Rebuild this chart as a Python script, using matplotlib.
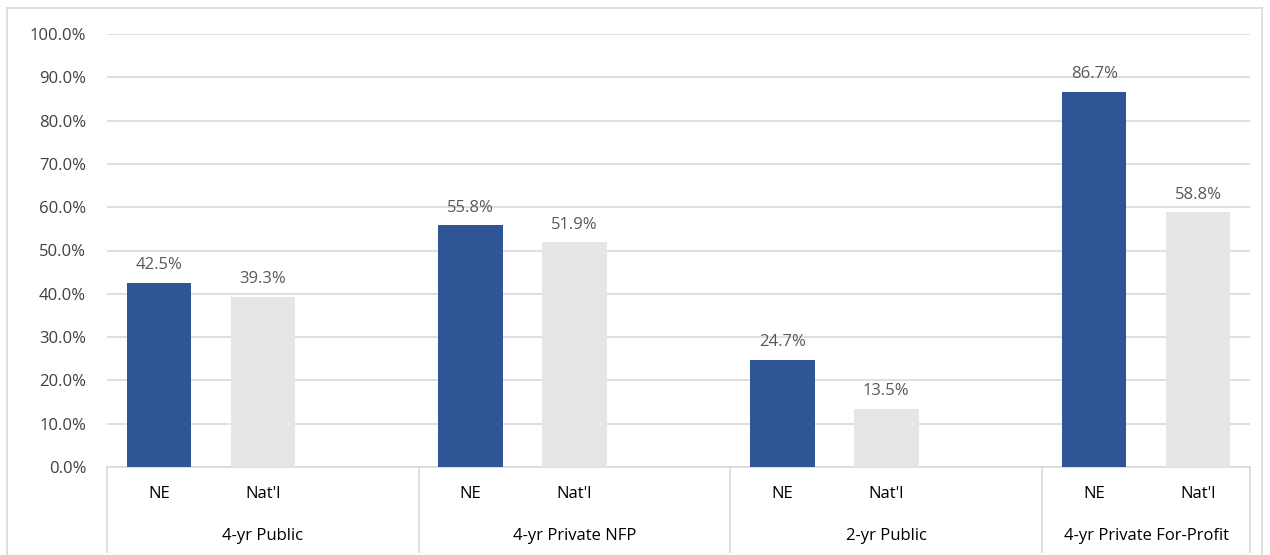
import matplotlib
matplotlib.use("Agg")
import matplotlib.pyplot as plt
from matplotlib.lines import Line2D
from matplotlib.ticker import FuncFormatter

groups = ["4-yr Public", "4-yr Private NFP", "2-yr Public", "4-yr Private For-Profit"]
series = ["NE", "Nat'l"]
ne_values = [42.5, 55.8, 24.7, 86.7]
natl_values = [39.3, 51.9, 13.5, 58.8]
yticks = [0, 10, 20, 30, 40, 50, 60, 70, 80, 90, 100]

# slots per group (Excel category layout: first three groups have an empty third slot)
slots_per_group = [3, 3, 3, 2]

plt.rcParams['font.family'] = ['Open Sans', 'DejaVu Sans']

W, H = 1270, 555
fig = plt.figure(figsize=(W / 100, H / 100), dpi=100)
ax = fig.add_axes([107 / W, (H - 467) / H, (1250 - 107) / W, (467 - 34) / H])

starts = []
s = 0
for n in slots_per_group:
    starts.append(s)
    s += n
total = s

ne_x = [st for st in starts]
natl_x = [st + 1 for st in starts]
bw = 0.62
c_ne = "#2F5597"
c_natl = "#E7E6E6"
ax.bar(ne_x, ne_values, width=bw, color=c_ne, zorder=3)
ax.bar(natl_x, natl_values, width=bw, color=c_natl, zorder=3)

fs = 12
for x, v in list(zip(ne_x, ne_values)) + list(zip(natl_x, natl_values)):
    ax.annotate(f"{v:.1f}%", (x, v), xytext=(0, 7), textcoords="offset points",
                ha="center", va="bottom", fontsize=fs, color="#595959")

ax.set_xlim(-0.5, total - 0.5)
ax.set_ylim(0, 100)
ax.set_yticks(yticks)
ax.yaxis.set_major_formatter(FuncFormatter(lambda v, p: f"{v:.1f}%"))
ax.tick_params(axis="y", length=0, pad=15, labelsize=fs, labelcolor="#404040")
ax.set_xticks([])
ax.grid(axis="y", color="#D9D9D9", linewidth=1.2, zorder=0)
for sp in ["top", "right", "left"]:
    ax.spines[sp].set_visible(False)
ax.spines["bottom"].set_color("#D9D9D9")
ax.spines["bottom"].set_linewidth(1.2)

trans = ax.get_xaxis_transform()
cat_y = (467 - 494) / (467 - 34)
grp_y = (467 - 536) / (467 - 34)
bot_y = (467 - 552) / (467 - 34)

for st, g, n in zip(starts, groups, slots_per_group):
    for i, name in enumerate(series):
        ax.text(st + i, cat_y, name, transform=trans, ha="center", va="center",
                fontsize=fs, color="#000000", clip_on=False)
    center = st - 0.5 + n / 2
    ax.text(center, grp_y, g, transform=trans, ha="center", va="center",
            fontsize=fs, color="#000000", clip_on=False)

bounds = [st - 0.5 for st in starts] + [total - 0.5]
for b in bounds:
    ax.add_line(Line2D([b, b], [0, bot_y], transform=trans, color="#D9D9D9",
                       linewidth=1.2, clip_on=False))

# outer chart border
bc = "#D9D9D9"
fig.add_artist(Line2D([7 / W, 1262 / W], [(H - 8) / H, (H - 8) / H], color=bc, linewidth=1.2))
fig.add_artist(Line2D([7 / W, 7 / W], [0, (H - 8) / H], color=bc, linewidth=1.2))
fig.add_artist(Line2D([1262 / W, 1262 / W], [0, (H - 8) / H], color=bc, linewidth=1.2))

fig.savefig("out.png", dpi=100)
